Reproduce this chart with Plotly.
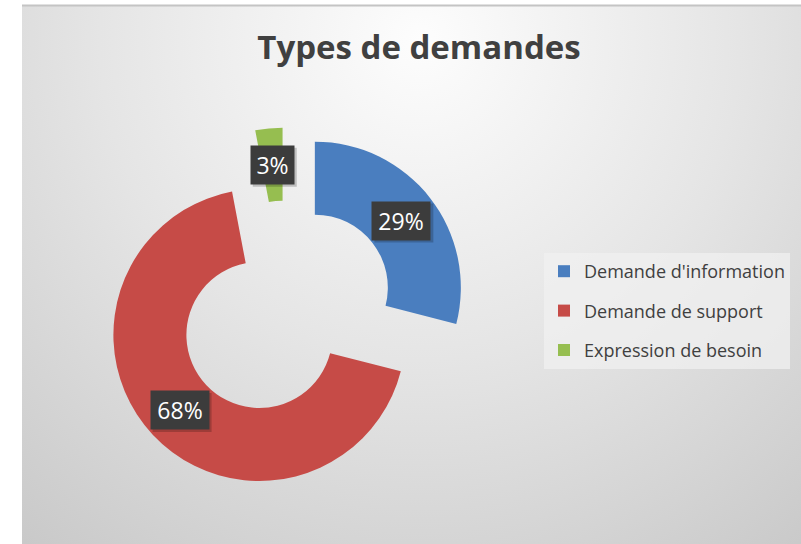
import base64
import math
import plotly.graph_objects as go

# ---- data ----
categories = ["Demande d'information", "Demande de support", "Expression de besoin"]
values = [29, 68, 3]
colors = ["#4A7EBF", "#C64B47", "#96BE50"]

# ---- layout constants ----
W, H = 801, 544
PIE_CX, PIE_CY = 286, 310      # pixel centre of the (unpulled) pie
PIE_R = 146                    # outer radius in px
PULL = 0.25
HOLE = 0.5
box = PIE_R * (1 + PULL)       # half box size
dom_x = [(PIE_CX - box) / W, (PIE_CX + box) / W]
dom_y = [1 - (PIE_CY + box) / H, 1 - (PIE_CY - box) / H]

# background: radial gray gradient
svg = f'''<svg xmlns="http://www.w3.org/2000/svg" width="{W}" height="{H}" viewBox="0 0 {W} {H}" preserveAspectRatio="none">
<defs><radialGradient id="g" cx="420" cy="40" r="640" gradientUnits="userSpaceOnUse">
<stop offset="0" stop-color="#fdfdfd"/><stop offset="0.5" stop-color="#e5e5e5"/><stop offset="1" stop-color="#c9c9c9"/>
</radialGradient></defs>
<rect width="{W}" height="{H}" fill="#ffffff"/>
<rect x="22" y="6" width="{W-22}" height="{H-6}" fill="url(#g)"/>
<line x1="22" y1="5.5" x2="{W}" y2="5.5" stroke="#c4c4c4" stroke-width="2"/>
</svg>'''
bg_uri = "data:image/svg+xml;base64," + base64.b64encode(svg.encode()).decode()

fig = go.Figure()
fig.add_trace(go.Pie(
    labels=categories, values=values, hole=HOLE, sort=False,
    direction="clockwise", rotation=0, pull=[PULL] * len(values),
    marker=dict(colors=colors, line=dict(width=0)),
    textinfo="none", hoverinfo="label+percent", showlegend=False,
    domain=dict(x=dom_x, y=dom_y),
))

# legend entries
for name, c in zip(categories, colors):
    fig.add_trace(go.Scatter(
        x=[None], y=[None], mode="markers", name=name, legendgroup=name,
        marker=dict(symbol="square", size=12, color=c),
    ))

# data labels as boxed annotations, placed from the values
total = sum(values)
start = 0.0
rmid = PIE_R * (1 + HOLE) / 2
BH = 38
for v in values:
    ang = start + 360 * v / total / 2
    start += 360 * v / total
    a = math.radians(ang)
    cx = PIE_CX + PULL * PIE_R * math.sin(a)
    cy = PIE_CY - PULL * PIE_R * math.cos(a)
    lx = cx + rmid * math.sin(a)
    ly = cy - rmid * math.cos(a)
    txt = f"{round(100 * v / total)}%"
    bw = 15 * len(txt) + 13
    # drop shadow
    fig.add_shape(type="rect", xref="paper", yref="paper",
                  x0=(lx - bw / 2 + 2) / W, x1=(lx + bw / 2 + 3) / W,
                  y0=1 - (ly + BH / 2 + 3) / H, y1=1 - (ly - BH / 2 + 2) / H,
                  fillcolor="rgba(0,0,0,0.2)", line=dict(width=0), layer="above")
    fig.add_annotation(
        x=lx / W, y=1 - ly / H, xref="paper", yref="paper",
        text=txt, showarrow=False, xanchor="center", yanchor="middle",
        width=bw, height=BH, bgcolor="#3c3c3c", borderpad=0,
        font=dict(family="Open Sans", size=23, color="#ffffff"),
    )

fig.update_layout(
    width=W, height=H,
    margin=dict(l=0, r=0, t=0, b=0),
    paper_bgcolor="#ffffff", plot_bgcolor="rgba(0,0,0,0)",
    images=[dict(source=bg_uri, xref="paper", yref="paper", x=0, y=1,
                 sizex=1, sizey=1, sizing="stretch", layer="below",
                 xanchor="left", yanchor="top")],
    title=dict(text="<b>Types de demandes</b>", x=419 / W, xanchor="center",
               y=1 - 47 / H, yanchor="middle", yref="container",
               font=dict(family="Open Sans", size=33, color="#404040")),
    xaxis=dict(visible=False), yaxis=dict(visible=False),
    legend=dict(x=544 / W, y=1 - 253 / H, xanchor="left", yanchor="top",
                bgcolor="rgba(240,240,240,0.75)", borderwidth=0,
                font=dict(family="Open Sans", size=18, color="#404040"),
                tracegroupgap=13, itemwidth=30),
    showlegend=True,
)

fig.write_html("out.html", config={"displayModeBar": False},
               post_script="document.body.style.margin='0';document.body.style.overflow='hidden';")
